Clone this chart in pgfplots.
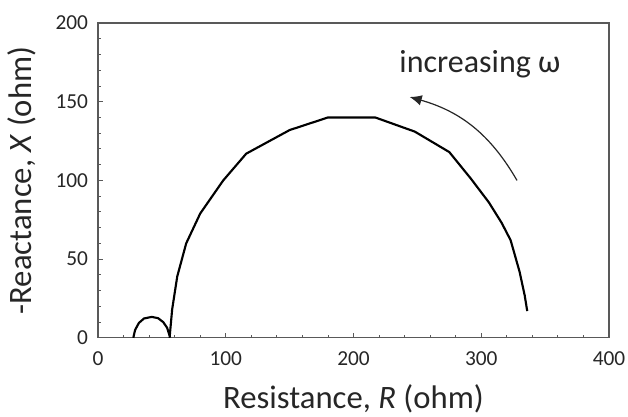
\documentclass[border=0pt]{standalone}
\usepackage{pgfplots}
\pgfplotsset{compat=1.18}
\usepackage{fontspec}
\setmainfont{Carlito}
\usetikzlibrary{arrows.meta}

\begin{document}
\begin{tikzpicture}
\path[use as bounding box] (-73.5pt,-58.7pt) rectangle (397.25pt,253.25pt);
\begin{axis}[
    scale only axis,
    width=383pt, height=236pt,
    xmin=0, xmax=400, ymin=0, ymax=200,
    xtick={0,100,...,400}, ytick={0,50,...,200},
    minor x tick num=4, minor y tick num=4,
    xtick pos=bottom, ytick pos=left,
    tick align=inside,
    major tick length=3.5pt, minor tick length=2.5pt,
    axis line style={draw=black!65, line width=0.9pt},
    every tick/.style={black!65, line width=0.7pt},
    tick label style={font=\fontsize{16}{18}\selectfont, text=black!85},
    x tick label style={yshift=-7pt},
    y tick label style={xshift=-4pt},
    /pgf/number format/assume math mode=true,
    xlabel={Resistance, \textit{R} (ohm)},
    ylabel={-Reactance, \textit{X} (ohm)},
    label style={font=\fontsize{24.5}{28}\selectfont, text=black!85},
    xlabel style={at={(axis description cs:0.5,0)}, anchor=center, yshift=-46pt},
    ylabel style={at={(axis description cs:0,0.5)}, anchor=center, yshift=57pt},
    clip=false,
]
% small arc
\addplot[black, line width=1.6pt] coordinates {
    (27.6,0) (29,5) (32,9.5) (36,12.3) (42,13.3) (47,12.5) (51,10) (54,6.5) (56,1.5)
};
% large arc
\addplot[black, line width=1.6pt] coordinates {
    (56,0) (58,18) (62,39) (69,60) (80,79) (98,100) (116,117)
    (150,132) (180,140) (217,140) (248,131) (275,118) (292,101)
    (306,86) (316,73) (323,62) (330,42) (334,27) (336,17)
};
\draw[-{Latex[length=9pt,width=8pt]}, line width=0.9pt, black!85]
    (axis cs:328,100) to[bend right=22] (axis cs:244,153);
\node[font=\fontsize{24}{27}\selectfont, text=black!85] at (axis cs:299,174) {increasing ω};
\end{axis}
\end{tikzpicture}
\end{document}
